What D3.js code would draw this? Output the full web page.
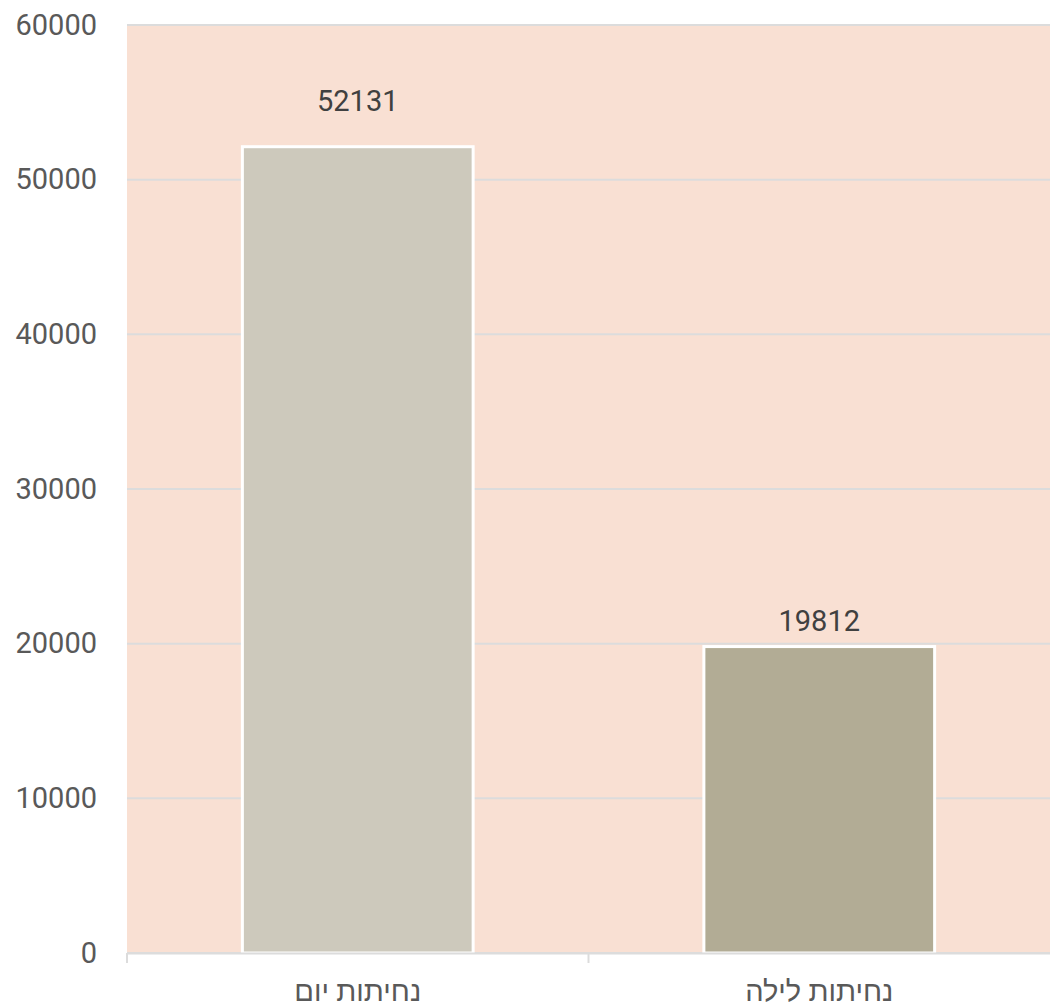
<!DOCTYPE html>
<html>
<head>
<meta charset="utf-8">
<script src="https://cdn.jsdelivr.net/npm/d3@7"></script>
<style>
  html, body { margin: 0; padding: 0; background: #fff; }
  svg text { font-family: Roboto, "Noto Sans", sans-serif; }
</style>
</head>
<body>
<svg id="chart"></svg>
<script>
// data
const categories = ['נחיתות יום', 'נחיתות לילה'];
const values = [52131, 19812];
const barColors = ['#cdc9bc', '#b2ac95'];
const yTicks = [0, 10000, 20000, 30000, 40000, 50000, 60000];

const width = 1050;
const height = 1007;
const margin = { top: 25, right: 0, bottom: 54, left: 127 };

const svg = d3.select('#chart').attr('width', width).attr('height', height);

const x = d3.scaleBand()
  .domain(categories)
  .range([margin.left, width - margin.right])
  .paddingInner(0.5)
  .paddingOuter(0.25);

const y = d3.scaleLinear()
  .domain([0, 60000])
  .range([height - margin.bottom, margin.top]);

// plot background
svg.append('rect')
  .attr('x', margin.left)
  .attr('y', margin.top)
  .attr('width', width - margin.right - margin.left)
  .attr('height', y(0) - margin.top)
  .attr('fill', '#f9e0d3');

// gridlines
svg.append('g')
  .selectAll('line')
  .data(yTicks)
  .join('line')
  .attr('x1', margin.left)
  .attr('x2', width - margin.right)
  .attr('y1', d => y(d))
  .attr('y2', d => y(d))
  .attr('stroke', '#dcdcdc')
  .attr('stroke-width', 2);

// y axis labels
const yAxis = d3.axisLeft(y).tickValues(yTicks).tickSize(0).tickPadding(30).tickFormat(d3.format('d'));
svg.append('g')
  .attr('transform', `translate(${margin.left},0)`)
  .call(yAxis)
  .call(g => g.select('.domain').remove())
  .call(g => g.selectAll('text')
    .attr('fill', '#595959')
    .attr('font-size', 29)
    .attr('font-family', 'Roboto, "Noto Sans", sans-serif'));

// bars
svg.append('g')
  .selectAll('rect')
  .data(values)
  .join('rect')
  .attr('x', (d, i) => x(categories[i]))
  .attr('y', d => y(d))
  .attr('width', x.bandwidth())
  .attr('height', d => y(0) - y(d))
  .attr('fill', (d, i) => barColors[i])
  .attr('stroke', '#fff')
  .attr('stroke-width', 3);

// value labels (first label sits higher above its bar in the original)
const labelGap = [36, 16];
svg.append('g')
  .selectAll('text')
  .data(values)
  .join('text')
  .attr('x', (d, i) => x(categories[i]) + x.bandwidth() / 2)
  .attr('y', (d, i) => y(d) - labelGap[i])
  .attr('text-anchor', 'middle')
  .attr('fill', '#404040')
  .attr('font-size', 29)
  .text(d => d);

// x axis
const xAxis = d3.axisBottom(x).tickSize(0).tickPadding(27);
const gx = svg.append('g')
  .attr('transform', `translate(0,${y(0)})`)
  .call(xAxis);
gx.select('.domain').attr('stroke', '#dcdcdc').attr('stroke-width', 2);
gx.selectAll('text')
  .attr('fill', '#595959')
  .attr('font-size', 29)
  .attr('font-family', 'Roboto, "Noto Sans", sans-serif')
  .attr('direction', 'rtl');

// category separator ticks
const sepX = [margin.left, margin.left + x.step()];
svg.append('g')
  .selectAll('line')
  .data(sepX)
  .join('line')
  .attr('x1', d => d)
  .attr('x2', d => d)
  .attr('y1', y(0))
  .attr('y2', y(0) + 10)
  .attr('stroke', '#dcdcdc')
  .attr('stroke-width', 2);
</script>
</body>
</html>
